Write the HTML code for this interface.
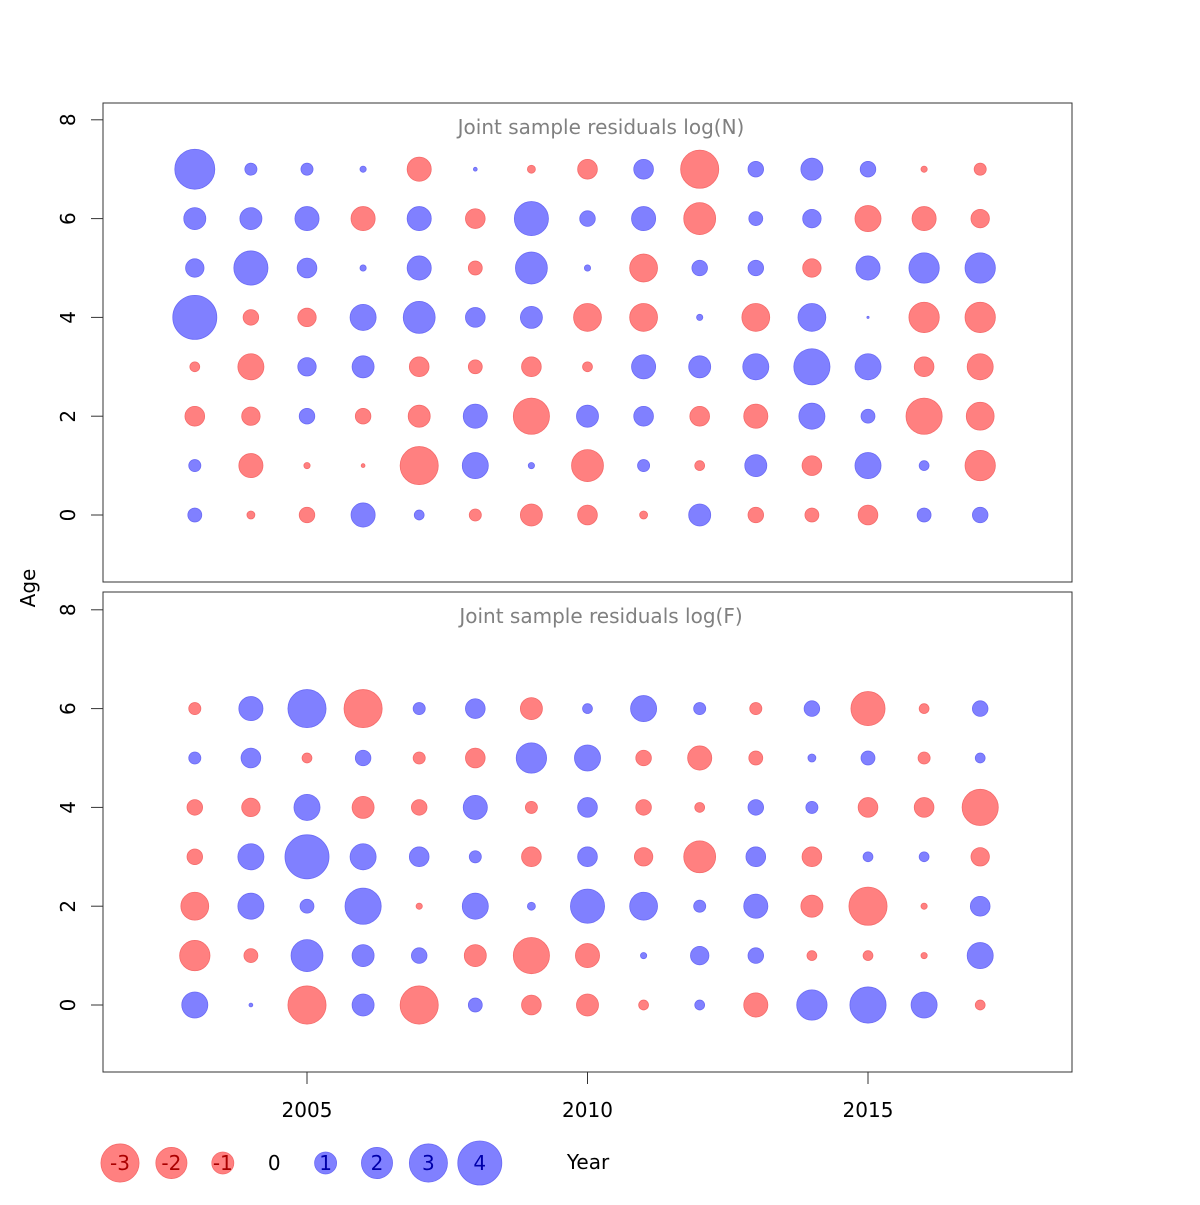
<!DOCTYPE html>
<html><head><meta charset="utf-8"><style>
body{margin:0;background:#fff}
svg{font-family:"DejaVu Sans","Liberation Sans",sans-serif}
</style></head><body>
<svg id="chart" width="1200" height="1200" viewBox="0 0 1200 1200" xmlns="http://www.w3.org/2000/svg">
<rect width="1200" height="1200" fill="#fff"/>
<g id="plot"></g>
</svg>
<script>
const years = [2003,2004,2005,2006,2007,2008,2009,2010,2011,2012,2013,2014,2015,2016,2017];
// residuals log(N): rows age 0..7
const resN = [
 [0.4,-0.13,-0.5,1.2,0.2,-0.3,-1,-0.8,-0.13,1,-0.5,-0.4,-0.8,0.4,0.5],
 [0.3,-1.2,-0.08,-0.03,-3,1.4,0.08,-2.1,0.3,-0.2,1,-0.8,1.4,0.2,-1.9],
 [-0.8,-0.7,0.5,-0.5,-1,1.2,-2.7,1,0.8,-0.8,-1.2,1.4,0.4,-2.7,-1.6],
 [-0.2,-1.4,0.7,1,-0.8,-0.4,-0.8,-0.2,1.2,1,1.4,2.7,1.4,-0.8,-1.4],
 [4,-0.5,-0.7,1.4,2.1,0.8,1,-1.6,-1.6,0.08,-1.6,1.6,0.01,-1.9,-1.9],
 [0.7,2.4,0.8,0.08,1.2,-0.4,2.1,0.08,-1.6,0.5,0.5,-0.7,1.2,1.9,1.9],
 [1,1,1.2,-1.2,1.2,-0.8,2.4,0.5,1.2,-2.1,0.4,0.7,-1.4,-1.2,-0.7],
 [3.3,0.3,0.3,0.08,-1.2,0.03,-0.13,-0.8,0.8,-3,0.5,1,0.5,-0.08,-0.3]
];
// residuals log(F): rows age 0..6
const resF = [
 [1.4,0.03,-3,1,-3,0.4,-0.8,-1,-0.2,0.2,-1.2,1.9,2.7,1.4,-0.2],
 [-1.9,-0.4,2.1,1,0.5,-1,-2.7,-1.2,0.08,0.7,0.5,-0.2,-0.2,-0.08,1.4],
 [-1.6,1.4,0.4,2.7,-0.08,1.4,0.13,2.4,1.6,0.3,1.2,-1,-3,-0.08,0.8],
 [-0.5,1.4,4,1.4,0.8,0.3,-0.8,0.8,-0.7,-2.1,0.8,-0.8,0.2,0.2,-0.7],
 [-0.5,-0.7,1.4,-1,-0.5,1.2,-0.3,0.8,-0.5,-0.2,0.5,0.3,-0.8,-0.8,-2.7],
 [0.3,0.8,-0.2,0.5,-0.3,-0.8,1.9,1.4,-0.5,-1.2,-0.4,0.13,0.4,-0.3,0.2],
 [-0.3,1.2,3,-3,0.3,0.8,-1,0.2,1.4,0.3,-0.3,0.5,-2.4,-0.2,0.5]
];
const xTicks = [2005,2010,2015];
const yTicks = [0,2,4,6,8];
const legendVals = [-3,-2,-1,0,1,2,3,4];
const titles = ["Joint sample residuals log(N)","Joint sample residuals log(F)"];

const NS="http://www.w3.org/2000/svg";
const g=document.getElementById('plot');
function mk(t,a){const e=document.createElementNS(NS,t);for(const k in a)e.setAttribute(k,a[k]);return e;}
const xS=v=>307+(v-2005)*56.1;
const rS=v=>11*Math.sqrt(Math.abs(v));
const panels=[{top:103,bot:582,y0:515,data:resN,name:'n'},{top:592,bot:1072,y0:1005,data:resF,name:'f'}];
panels.forEach((p,pi)=>{
  const yS=v=>p.y0-v*49.4;
  const box=mk('rect',{x:103,y:p.top,width:969,height:p.bot-p.top,fill:'none',stroke:'#333','stroke-width':1});
  
  
  g.appendChild(box);
  const t=mk('text',{x:601,y:p.top+31,'text-anchor':'middle','font-size':20,fill:'#808080'});
  t.textContent=titles[pi];
  
  
  g.appendChild(t);
  yTicks.forEach(v=>{
    const y=yS(v);
    const l=mk('line',{x1:91,x2:103,y1:y,y2:y,stroke:'#333'});
    
    
    g.appendChild(l);
    const tx=mk('text',{x:75,y:y,'text-anchor':'middle','font-size':20,fill:'#000',transform:`rotate(-90 75 ${y})`});
    tx.textContent=v;
    
    
    g.appendChild(tx);
  });
  p.data.forEach((row,age)=>{
    row.forEach((v,i)=>{
      const c=mk('circle',{cx:xS(years[i]),cy:yS(age),r:rS(v),fill:v>=0?'#8080ff':'#ff8080',stroke:v>=0?'#6b6bf5':'#f56b6b','stroke-width':0.8});
      
      
      g.appendChild(c);
    });
  });
});
xTicks.forEach(v=>{
  const x=xS(v);
  const l=mk('line',{x1:x,x2:x,y1:1072,y2:1084,stroke:'#333'});
  
  
  g.appendChild(l);
  const t=mk('text',{x:x,y:1117,'text-anchor':'middle','font-size':20});
  t.textContent=v;
  
  
  g.appendChild(t);
});
const ya=mk('text',{x:35,y:588,'text-anchor':'middle','font-size':20,transform:'rotate(-90 35 588)'});
ya.textContent='Age';


g.appendChild(ya);
const xa=mk('text',{x:588,y:1169,'text-anchor':'middle','font-size':20});
xa.textContent='Year';


g.appendChild(xa);
legendVals.forEach((v,i)=>{
  const x=120+i*51.4;
  if(v!==0){
    const c=mk('circle',{cx:x,cy:1163,r:rS(v),fill:v>0?'#8080ff':'#ff8080',stroke:v>0?'#6b6bf5':'#f56b6b','stroke-width':0.8});
    
    
    g.appendChild(c);
  }
  const t=mk('text',{x:x,y:1170,'text-anchor':'middle','font-size':20,fill:v>0?'#0000aa':(v<0?'#aa0000':'#000')});
  t.textContent=v;
  
  
  g.appendChild(t);
});
</script>
</body></html>
